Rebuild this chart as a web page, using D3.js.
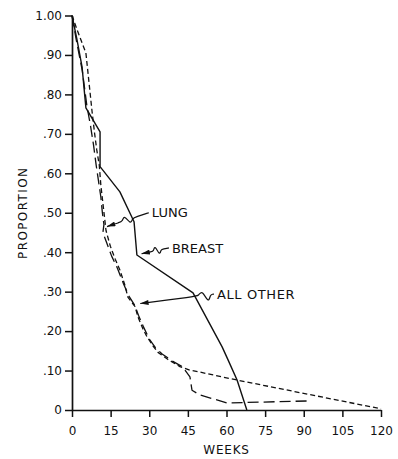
<!DOCTYPE html>
<html>
<head>
<meta charset="utf-8">
<script src="https://cdn.jsdelivr.net/npm/d3@7"></script>
<style>
  body { margin: 0; background: #fff; }
  text { font-family: "DejaVu Sans", sans-serif; fill: #111; }
</style>
</head>
<body>
<div id="chart"></div>
<script>
// ticks
const weekTicks = [0, 15, 30, 45, 60, 75, 90, 105, 120];
const propTicks = [0, 0.1, 0.2, 0.3, 0.4, 0.5, 0.6, 0.7, 0.8, 0.9, 1.0];
const propTickLabels = ["0", ".10", ".20", ".30", ".40", ".50", ".60", ".70", ".80", ".90", "1.00"];

// breast (solid)
const breastWeeks = [0, 1.9, 3.9, 5.4, 10.9, 10.9, 18.6, 24.1, 25.2, 47, 58.3, 60.6, 64.1, 67.9];
const breastProp  = [1.0, 0.94, 0.87, 0.766, 0.705, 0.617, 0.553, 0.477, 0.393, 0.297, 0.16, 0.127, 0.076, 0.0];

// lung (long dash)
const lungWeeks = [0, 1.6, 4.0, 5.8, 7.2, 8.4, 9.4, 10.3, 11.2, 11.8, 12.4, 12.0, 13.4, 15.4, 17.6, 20.0, 22.0, 24.4, 25.8, 27.8, 30.0, 32.4, 35.0, 39.0, 43.0, 45.8, 46.6, 49.7, 60.2, 92.4];
const lungProp  = [1.0, 0.94, 0.86, 0.77, 0.72, 0.67, 0.62, 0.58, 0.54, 0.50, 0.47, 0.45, 0.425, 0.39, 0.36, 0.32, 0.29, 0.265, 0.24, 0.21, 0.18, 0.158, 0.142, 0.124, 0.109, 0.084, 0.05, 0.038, 0.018, 0.023];

// all other (short dash)
const otherWeeks = [0, 1.9, 5.4, 7.8, 8.8, 9.6, 10.6, 11.2, 11.9, 12.6, 13.2, 14.9, 16.8, 18.6, 20.6, 21.7, 24.5, 25.6, 27.6, 29.1, 31.5, 33.4, 37.3, 41.9, 45.8, 49.7, 64.0, 120];
const otherProp  = [1.0, 0.965, 0.905, 0.756, 0.70, 0.66, 0.62, 0.57, 0.53, 0.49, 0.455, 0.415, 0.382, 0.355, 0.315, 0.286, 0.262, 0.236, 0.205, 0.186, 0.162, 0.146, 0.128, 0.11, 0.101, 0.096, 0.076, 0.003];

// annotations: label anchor and arrow tip, in data units
const annNames    = ["LUNG", "BREAST", "ALL OTHER"];
const annWeek     = [31.0, 38.8, 56.3];
const annProp     = [0.50, 0.411, 0.294];
const annTipWeek  = [13.6, 27.0, 26.5];
const annTipProp  = [0.465, 0.396, 0.27];

const W = 398, H = 459;
const margin = { top: 15.5, right: 17, bottom: 49, left: 72 };

const x = d3.scaleLinear().domain([0, 120]).range([margin.left, W - margin.right]);
const y = d3.scaleLinear().domain([0, 1]).range([H - margin.bottom, margin.top]);

const svg = d3.select("#chart").append("svg")
  .attr("width", W).attr("height", H)
  .style("display", "block");

svg.append("defs").append("marker")
  .attr("id", "arrow")
  .attr("viewBox", "0 0 10 6")
  .attr("refX", 10).attr("refY", 3)
  .attr("markerWidth", 9).attr("markerHeight", 5)
  .attr("markerUnits", "userSpaceOnUse")
  .attr("orient", "auto")
  .append("path").attr("d", "M0,0L10,3L0,6Z").attr("fill", "#111");

// axes
const xAxis = svg.append("g")
  .attr("transform", `translate(0,${y(0)})`)
  .call(d3.axisBottom(x).tickValues(weekTicks).tickSize(7).tickSizeOuter(0).tickPadding(9));

const yAxis = svg.append("g")
  .attr("transform", `translate(${x(0)},0)`)
  .call(d3.axisLeft(y).tickValues(propTicks).tickSize(7).tickSizeOuter(0).tickPadding(3)
    .tickFormat((d, i) => propTickLabels[i]));

[xAxis, yAxis].forEach(g => {
  g.select(".domain").attr("stroke", "#111").attr("stroke-width", 1.7);
  g.selectAll(".tick line").attr("stroke", "#111").attr("stroke-width", 1.5);
  g.selectAll(".tick text").attr("font-size", 12).attr("fill", "#111")
    .style("font-family", '"DejaVu Sans", sans-serif');
});

// axis titles
svg.append("text")
  .attr("x", (x(0) + x(120)) / 2)
  .attr("y", y(0) + 44)
  .attr("text-anchor", "middle")
  .attr("font-size", 12)
  .attr("letter-spacing", 0.8)
  .text("WEEKS");

svg.append("text")
  .attr("transform", `translate(27,${y(0.5)}) rotate(-90)`)
  .attr("text-anchor", "middle")
  .attr("font-size", 12)
  .attr("letter-spacing", 1.4)
  .text("PROPORTION");

// curves
const line = d3.line().x(d => x(d[0])).y(d => y(d[1]));

const series = [
  { w: breastWeeks, p: breastProp, dash: null, sw: 1.4 },
  { w: lungWeeks,   p: lungProp,   dash: "11,5", sw: 1.3 },
  { w: otherWeeks,  p: otherProp,  dash: "5,3", sw: 1.3 }
];

svg.selectAll(".curve")
  .data(series)
  .join("path")
  .attr("class", "curve")
  .attr("fill", "none")
  .attr("stroke", "#111")
  .attr("stroke-width", d => d.sw)
  .attr("stroke-dasharray", d => d.dash)
  .attr("stroke-linejoin", "round")
  .attr("d", d => line(d.w.map((w, i) => [w, d.p[i]])));

// annotation labels with wavy leaders (t along leader, sideways offset)
const squiggles = [
  [[0, 0], [0.3, 0], [0.4, 0], [0.47, -6], [0.55, 6], [0.63, 0], [0.7, 0], [1, 0]],
  [[0, 0], [0.2, 0], [0.3, 0], [0.38, -6], [0.47, 6], [0.56, 0], [0.62, 0], [1, 0]],
  [[0, 0], [0.02, 0], [0.05, 0], [0.09, -9], [0.15, 6], [0.21, 0], [0.26, 0], [1, 0]]
];

const leader = d3.line().curve(d3.curveBasis);

annNames.forEach((name, i) => {
  const lx = x(annWeek[i]), ly = y(annProp[i]);
  svg.append("text")
    .attr("x", lx).attr("y", ly)
    .attr("dy", "0.36em")
    .attr("font-size", 13)
    .attr("letter-spacing", name === "ALL OTHER" ? 0.6 : 0)
    .text(name);

  const sx = lx - 3, sy = ly;
  const tx = x(annTipWeek[i]), ty = y(annTipProp[i]);
  const dx = tx - sx, dy = ty - sy, len = Math.hypot(dx, dy);
  const nx = -dy / len, ny = dx / len;
  const pts = squiggles[i].map(([t, o]) => [sx + dx * t + nx * o, sy + dy * t + ny * o]);

  svg.append("path")
    .attr("d", leader(pts))
    .attr("fill", "none")
    .attr("stroke", "#111")
    .attr("stroke-width", 1.2)
    .attr("marker-end", "url(#arrow)");
});
</script>
</body>
</html>
